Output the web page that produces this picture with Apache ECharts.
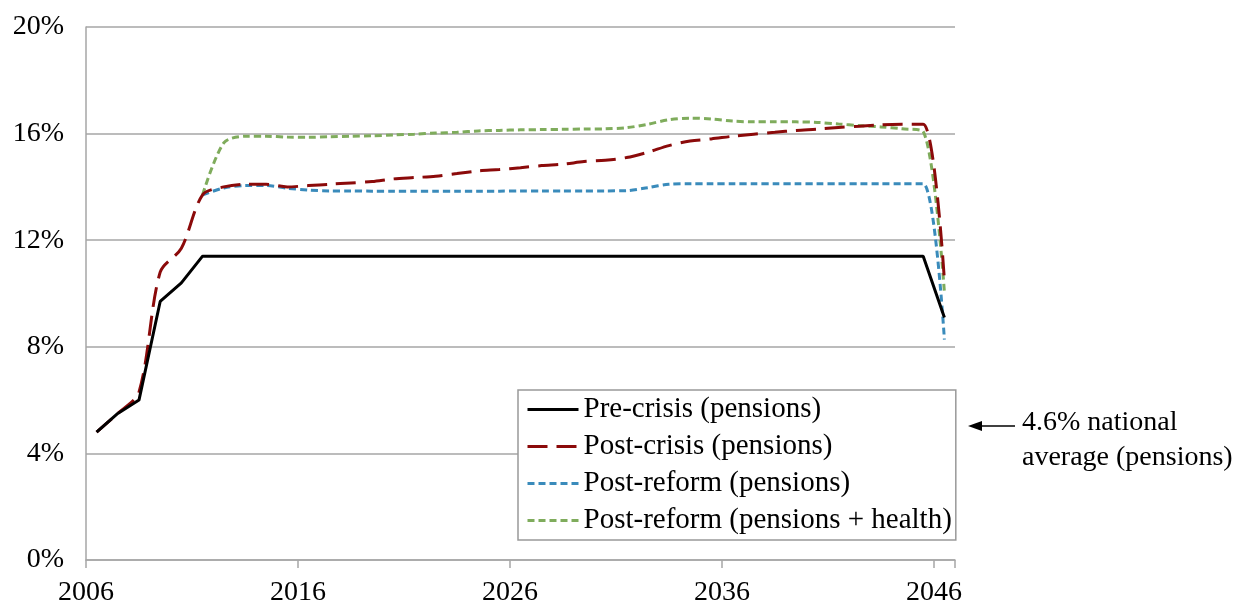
<!DOCTYPE html>
<html>
<head>
<meta charset="utf-8">
<script src="https://cdn.jsdelivr.net/npm/echarts@6/dist/echarts.min.js"></script>
<style>html,body{margin:0;padding:0;background:#fff}#c{width:1235px;height:603px}</style>
</head>
<body>
<div id="c"></div>
<script>
var years = [];
for (var y = 2006; y <= 2046; y++) years.push(String(y));

var preCrisis = [4.8, 5.5, 6.0, 9.7, 10.4,
  11.4, 11.4, 11.4, 11.4, 11.4, 11.4, 11.4, 11.4, 11.4, 11.4,
  11.4, 11.4, 11.4, 11.4, 11.4, 11.4, 11.4, 11.4, 11.4, 11.4,
  11.4, 11.4, 11.4, 11.4, 11.4, 11.4, 11.4, 11.4, 11.4, 11.4,
  11.4, 11.4, 11.4, 11.4, 11.4, 9.1];

var postCrisis = [4.8, 5.5, 6.3, 10.8, 11.7,
  13.7, 14.0, 14.1, 14.1, 14.0, 14.05, 14.1, 14.15, 14.2, 14.3,
  14.35, 14.4, 14.5, 14.6, 14.65, 14.72, 14.8, 14.85, 14.95, 15.0,
  15.1, 15.3, 15.55, 15.72, 15.8, 15.9, 15.98, 16.05, 16.12, 16.17,
  16.23, 16.28, 16.33, 16.35, 16.35, 10.5];

var postReform = [null, null, null, null, null,
  13.7, 13.96, 14.05, 14.05, 13.95, 13.88, 13.85, 13.85, 13.84, 13.84,
  13.84, 13.84, 13.84, 13.84, 13.84, 13.85, 13.85, 13.85, 13.85, 13.85,
  13.86, 13.97, 14.1, 14.12, 14.12, 14.12, 14.12, 14.12, 14.12, 14.12,
  14.12, 14.12, 14.12, 14.12, 14.12, 8.27];

var postReformHealth = [null, null, null, null, null,
  13.7, 15.65, 15.9, 15.9, 15.87, 15.86, 15.88, 15.9, 15.92, 15.95,
  15.98, 16.02, 16.05, 16.1, 16.12, 16.14, 16.15, 16.16, 16.17, 16.18,
  16.22, 16.35, 16.52, 16.58, 16.55, 16.47, 16.44, 16.44, 16.44, 16.42,
  16.36, 16.3, 16.25, 16.18, 16.08, 10.05];

var yTicks = [0, 4, 8, 12, 16, 20];
var seriesNames = ['Pre-crisis (pensions)', 'Post-crisis (pensions)', 'Post-reform (pensions)', 'Post-reform (pensions + health)'];

var FONT = '"Liberation Serif", "DejaVu Serif", serif';
var chart = echarts.init(document.getElementById('c'), null, {renderer: 'canvas'});
chart.setOption({
  animation: false,
  backgroundColor: '#fff',
  grid: {left: 86, right: 280, top: 27, bottom: 43, containLabel: false, outerBoundsMode: 'none'},
  xAxis: {
    type: 'category',
    data: years,
    boundaryGap: true,
    axisLine: {show: true, lineStyle: {color: '#a6a6a6', width: 1.5}},
    axisTick: {show: true, interval: function (i) { return i % 10 === 0 && i <= 40; }, length: 8, lineStyle: {color: '#a6a6a6', width: 1.5}},
    axisLabel: {interval: 9, color: '#000', fontFamily: FONT, fontSize: 28, margin: 19, padding: [0, 21, 0, 0]},
    splitLine: {show: false}
  },
  yAxis: {
    type: 'value',
    min: yTicks[0], max: yTicks[yTicks.length - 1], interval: 4,
    axisLine: {show: true, lineStyle: {color: '#a6a6a6', width: 1.5}},
    axisTick: {show: false},
    axisLabel: {color: '#000', fontFamily: FONT, fontSize: 28, margin: 22, formatter: '{value}%'},
    splitLine: {show: true, lineStyle: {color: '#a6a6a6', width: 1.5}}
  },
  legend: {
    orient: 'vertical',
    left: 518, top: 390,
    backgroundColor: '#fff',
    borderColor: '#999', borderWidth: 1.5,
    padding: [5, 4, 5, 8],
    itemWidth: 51, itemHeight: 12, itemGap: 8,
    itemStyle: {opacity: 0},
    lineStyle: {width: 3},
    textStyle: {color: '#000', fontFamily: FONT, fontSize: 29, lineHeight: 29},
    data: seriesNames
  },
  series: [
    {name: seriesNames[0], type: 'line', data: preCrisis, symbol: 'none', smooth: false,
     lineStyle: {color: '#000', width: 3}, itemStyle: {color: '#000'}, z: 4},
    {name: seriesNames[1], type: 'line', data: postCrisis, symbol: 'none', smooth: 0.3,
     lineStyle: {color: '#8b0a0a', width: 3, type: [20, 9]}, itemStyle: {color: '#8b0a0a'}, z: 3},
    {name: seriesNames[2], type: 'line', data: postReform, symbol: 'none', smooth: 0.3,
     lineStyle: {color: '#3a8bbb', width: 3, type: [7, 4]}, itemStyle: {color: '#3a8bbb'}, z: 2},
    {name: seriesNames[3], type: 'line', data: postReformHealth, symbol: 'none', smooth: 0.3,
     lineStyle: {color: '#7fac5c', width: 3, type: [7, 4]}, itemStyle: {color: '#7fac5c'}, z: 1}
  ],
  graphic: [
    {type: 'line', shape: {x1: 1015, y1: 426, x2: 978, y2: 426}, style: {stroke: '#000', lineWidth: 1.3}},
    {type: 'polygon', shape: {points: [[968, 426], [982, 421], [982, 431]]}, style: {fill: '#000'}},
    {type: 'text', left: 1022, top: 405, style: {text: '4.6% national\naverage (pensions)', font: '28px ' + FONT, fill: '#000', lineHeight: 35}}
  ]
});
</script>
</body>
</html>
